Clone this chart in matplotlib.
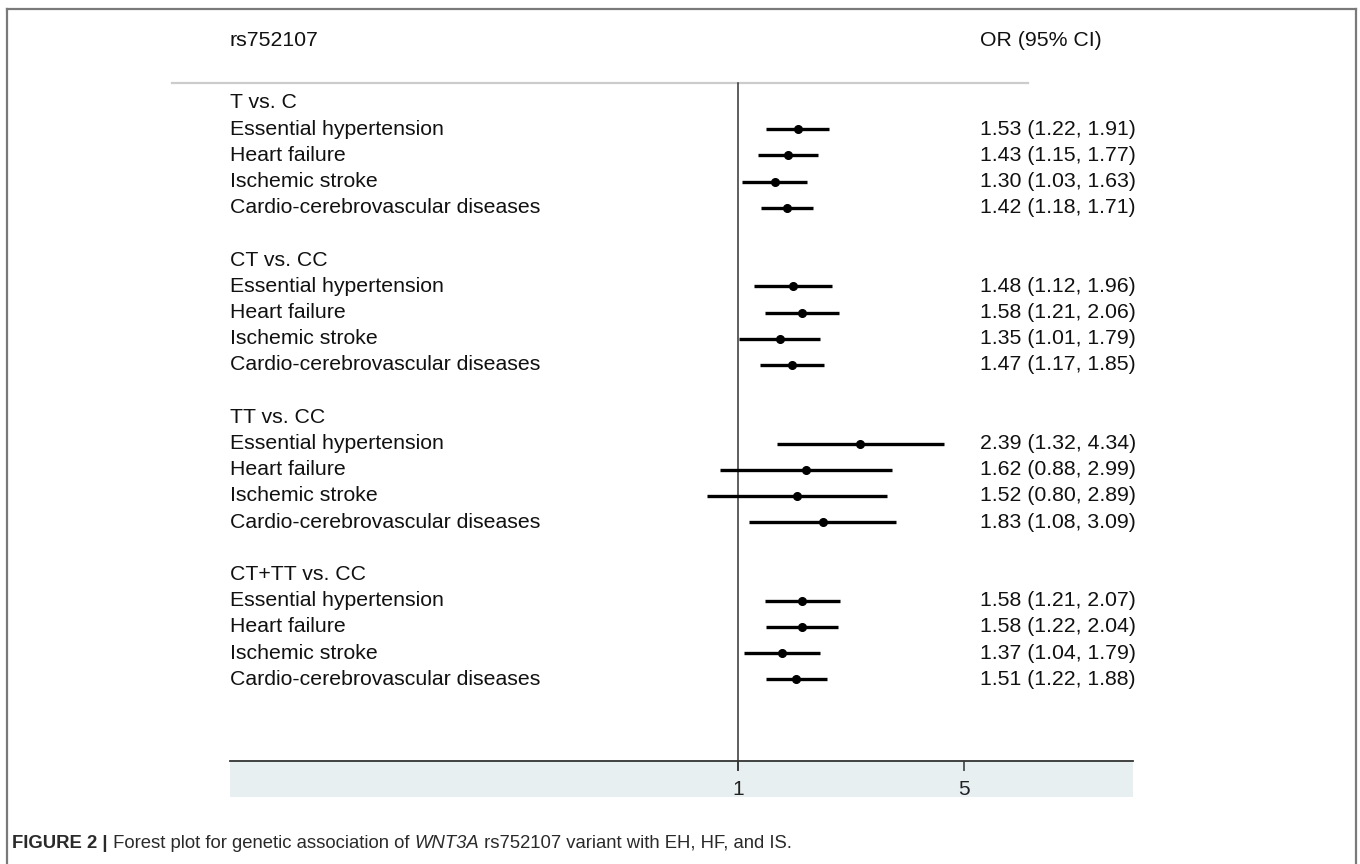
import numpy as np
import matplotlib
matplotlib.use("Agg")
import matplotlib.pyplot as plt
import matplotlib.transforms as mtransforms
from matplotlib.lines import Line2D
from matplotlib.patches import Rectangle
from matplotlib.ticker import NullLocator

plt.rcParams['font.family'] = ['Liberation Sans', 'DejaVu Sans']

# ---- data ----
snp = "rs752107"
models = ["T vs. C", "CT vs. CC", "TT vs. CC", "CT+TT vs. CC"]
diseases = ["Essential hypertension", "Heart failure", "Ischemic stroke",
            "Cardio-cerebrovascular diseases"]
or_tc = [1.53, 1.43, 1.30, 1.42]
lo_tc = [1.22, 1.15, 1.03, 1.18]
hi_tc = [1.91, 1.77, 1.63, 1.71]
or_ct = [1.48, 1.58, 1.35, 1.47]
lo_ct = [1.12, 1.21, 1.01, 1.17]
hi_ct = [1.96, 2.06, 1.79, 1.85]
or_tt = [2.39, 1.62, 1.52, 1.83]
lo_tt = [1.32, 0.88, 0.80, 1.08]
hi_tt = [4.34, 2.99, 2.89, 3.09]
or_dom = [1.58, 1.58, 1.37, 1.51]
lo_dom = [1.21, 1.22, 1.04, 1.22]
hi_dom = [2.07, 2.04, 1.79, 1.88]
xticks = [1, 5]

ORs = [or_tc, or_ct, or_tt, or_dom]
LOs = [lo_tc, lo_ct, lo_tt, lo_dom]
HIs = [hi_tc, hi_ct, hi_tt, hi_dom]

# ---- figure in pixel layout ----
W, H = 1360, 864
fig = plt.figure(figsize=(W / 100, H / 100), dpi=100)

def fx(x): return x / W
def fy(y): return 1 - y / H

# axes box (pixels)
ax_l, ax_r, ax_t, ax_b = 230, 1133, 83, 761
row0, row_h = 103, 26.2          # pixel y of first row, spacing
x_one, px_per_ln = 738, 140.4    # pixel of OR=1, px per ln unit

# light band under the axis (drawn first, below everything)
fig.patches.append(Rectangle((fx(ax_l), fy(797)), (ax_r - ax_l) / W, (797 - ax_b) / H,
                             transform=fig.transFigure, facecolor='#e8eff1',
                             edgecolor='none', zorder=-1))

ax = fig.add_axes([fx(ax_l), fy(ax_b), (ax_r - ax_l) / W, (ax_b - ax_t) / H])
ax.set_zorder(2)
ax.set_facecolor('none')
ax.set_xscale('log')
ax.set_xlim(np.exp((ax_l - x_one) / px_per_ln), np.exp((ax_r - x_one) / px_per_ln))
ax.set_ylim((ax_b - row0) / row_h, (ax_t - row0) / row_h)

for s in ['top', 'left', 'right']:
    ax.spines[s].set_visible(False)
ax.spines['bottom'].set_color('#333333')
ax.spines['bottom'].set_linewidth(1.3)
ax.set_yticks([])
ax.set_xticks(xticks)
ax.set_xticklabels([str(t) for t in xticks])
ax.xaxis.set_minor_locator(NullLocator())
ax.tick_params(axis='x', direction='out', length=7, width=1.1, color='#333333',
               pad=7, labelsize=15, labelcolor='#222222')

# null line
ax.plot([1, 1], [(ax_t - row0) / row_h, (770 - row0) / row_h], color='#333333',
        lw=1.1, clip_on=False, zorder=3)

trans = mtransforms.blended_transform_factory(ax.transAxes, ax.transData)
or_x = (980 - ax_l) / (ax_r - ax_l)
fs = 15.3

row = 0
for g, model in enumerate(models):
    ax.text(0, row, model, transform=trans, ha='left', va='center', fontsize=fs,
            color='#111111', clip_on=False)
    row += 1
    for d, name in enumerate(diseases):
        o, lo, hi = ORs[g][d], LOs[g][d], HIs[g][d]
        ax.plot([lo, hi], [row, row], color='black', lw=2.4, solid_capstyle='butt', zorder=4)
        ax.plot([o], [row], 'o', color='black', markersize=5.5, zorder=5)
        ax.text(0, row, name, transform=trans, ha='left', va='center', fontsize=fs,
                color='#111111', clip_on=False)
        ax.text(or_x, row, "%.2f (%.2f, %.2f)" % (o, lo, hi), transform=trans,
                ha='left', va='center', fontsize=fs, color='#111111', clip_on=False)
        row += 1
    row += 1

# header
fig.text(fx(229), fy(40), snp, ha='left', va='center', fontsize=fs, color='#111111')
fig.text(fx(980), fy(40), "OR (95% CI)", ha='left', va='center', fontsize=fs, color='#111111')
fig.add_artist(Line2D([fx(172), fx(1028)], [fy(83), fy(83)], color='#cccccc', lw=1.6))

# outer frame
fc = '#7a7a7a'
fig.add_artist(Line2D([fx(7), fx(7)], [fy(9), 0], color=fc, lw=1.6))
fig.add_artist(Line2D([fx(7), fx(1356)], [fy(9), fy(9)], color=fc, lw=1.6))
fig.add_artist(Line2D([fx(1356), fx(1356)], [fy(9), 0], color=fc, lw=1.6))

# caption, drawn piece by piece
cap_parts = [("FIGURE 2 |", 'normal', 'bold'),
             (" Forest plot for genetic association of ", 'normal', 'normal'),
             ("WNT3A", 'italic', 'normal'),
             (" rs752107 variant with EH, HF, and IS.", 'normal', 'normal')]
cap_fam = ['Liberation Sans', 'DejaVu Sans']
fig.canvas.draw()
r = fig.canvas.get_renderer()
x = 12
for txt, st, wt in cap_parts:
    t = fig.text(fx(x), fy(843), txt, ha='left', va='center', fontsize=13.3,
                 family=cap_fam, style=st, weight=wt, color='#2a2a2a')
    bb = t.get_window_extent(renderer=r)
    x += bb.width

plt.savefig("out.png", dpi=100)
